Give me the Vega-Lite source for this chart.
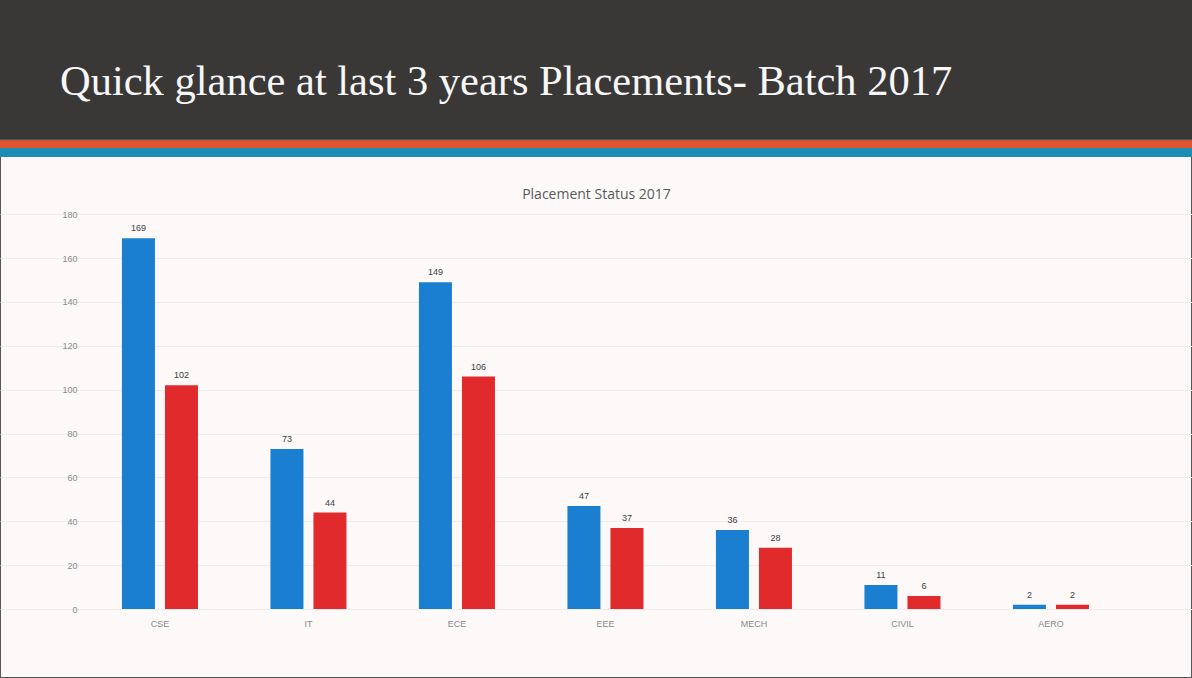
{
  "$schema": "https://vega.github.io/schema/vega-lite/v6.json",
  "width": 1192,
  "height": 538,
  "autosize": {"type": "none"},
  "padding": {"left": 0, "right": 0, "top": 140, "bottom": 0},
  "background": "#3a3737",
  "title": {
    "text": "Quick glance at last 3 years Placements- Batch 2017",
    "anchor": "start",
    "frame": "group",
    "dx": 60,
    "font": "Liberation Serif",
    "fontSize": 42.5,
    "fontWeight": "normal",
    "color": "#f7f7f7",
    "offset": 37
  },
  "config": {
    "view": {"fill": "#fdf9f9", "stroke": "#555555", "strokeWidth": 2}
  },
  "data": {
    "values": [
      {"dept": "CSE", "series": "Students", "count": 169},
      {"dept": "CSE", "series": "Placed", "count": 102},
      {"dept": "IT", "series": "Students", "count": 73},
      {"dept": "IT", "series": "Placed", "count": 44},
      {"dept": "ECE", "series": "Students", "count": 149},
      {"dept": "ECE", "series": "Placed", "count": 106},
      {"dept": "EEE", "series": "Students", "count": 47},
      {"dept": "EEE", "series": "Placed", "count": 37},
      {"dept": "MECH", "series": "Students", "count": 36},
      {"dept": "MECH", "series": "Placed", "count": 28},
      {"dept": "CIVIL", "series": "Students", "count": 11},
      {"dept": "CIVIL", "series": "Placed", "count": 6},
      {"dept": "AERO", "series": "Students", "count": 2},
      {"dept": "AERO", "series": "Placed", "count": 2}
    ]
  },
  "layer": [
    {
      "mark": {"type": "bar"},
      "encoding": {
        "x": {
          "field": "dept", "type": "nominal", "sort": null,
          "scale": {"paddingInner": 0.488, "paddingOuter": 0.7575, "align": 0.542},
          "axis": {
            "orient": "bottom", "offset": -69, "title": null, "domain": false, "ticks": false,
            "labelPadding": 10, "labelFont": "Liberation Sans", "labelFontSize": 9,
            "labelColor": "#8a8a8a", "labelAngle": 0, "grid": false
          }
        },
        "xOffset": {
          "field": "series", "type": "nominal", "sort": ["Students", "Placed"],
          "scale": {"paddingInner": 0.2326, "paddingOuter": 0}
        },
        "y": {
          "field": "count", "type": "quantitative",
          "scale": {"domain": [-31.4, 213.8], "nice": false, "zero": false},
          "axis": {
            "values": [0, 20, 40, 60, 80, 100, 120, 140, 160, 180],
            "title": null, "domain": false, "ticks": false, "offset": -79, "labelPadding": 2,
            "labelFont": "Liberation Sans", "labelFontSize": 9, "labelColor": "#8a8a8a",
            "grid": true, "gridColor": "#f1ecec", "gridWidth": 1
          }
        },
        "y2": {"datum": 0},
        "color": {
          "field": "series", "type": "nominal",
          "scale": {"domain": ["Students", "Placed"], "range": ["#1a7fd0", "#e02a2c"]},
          "legend": null
        }
      }
    },
    {
      "mark": {"type": "text", "baseline": "bottom", "dy": -5, "font": "Liberation Sans", "fontSize": 9, "color": "#404040"},
      "encoding": {
        "x": {
          "field": "dept", "type": "nominal", "sort": null,
          "axis": {
            "orient": "top", "offset": -66, "labels": false, "ticks": false, "domain": false, "grid": false,
            "title": "Placement Status 2017", "titlePadding": 5, "titleFont": "Open Sans",
            "titleFontSize": 14, "titleFontWeight": "normal", "titleColor": "#595959"
          }
        },
        "xOffset": {"field": "series", "type": "nominal", "sort": ["Students", "Placed"]},
        "y": {"field": "count", "type": "quantitative", "axis": {"title": null}},
        "text": {"field": "count", "type": "quantitative"}
      }
    },
    {
      "data": {"values": [{}]},
      "mark": {"type": "rule", "color": "#df5330", "strokeWidth": 8},
      "encoding": {"y": {"datum": 211.9, "type": "quantitative", "axis": {"title": null}}}
    },
    {
      "data": {"values": [{}]},
      "mark": {"type": "rule", "color": "#1e8db3", "strokeWidth": 9},
      "encoding": {"y": {"datum": 208.1, "type": "quantitative", "axis": {"title": null}}}
    }
  ],
  "resolve": {"axis": {"x": "independent"}}
}
